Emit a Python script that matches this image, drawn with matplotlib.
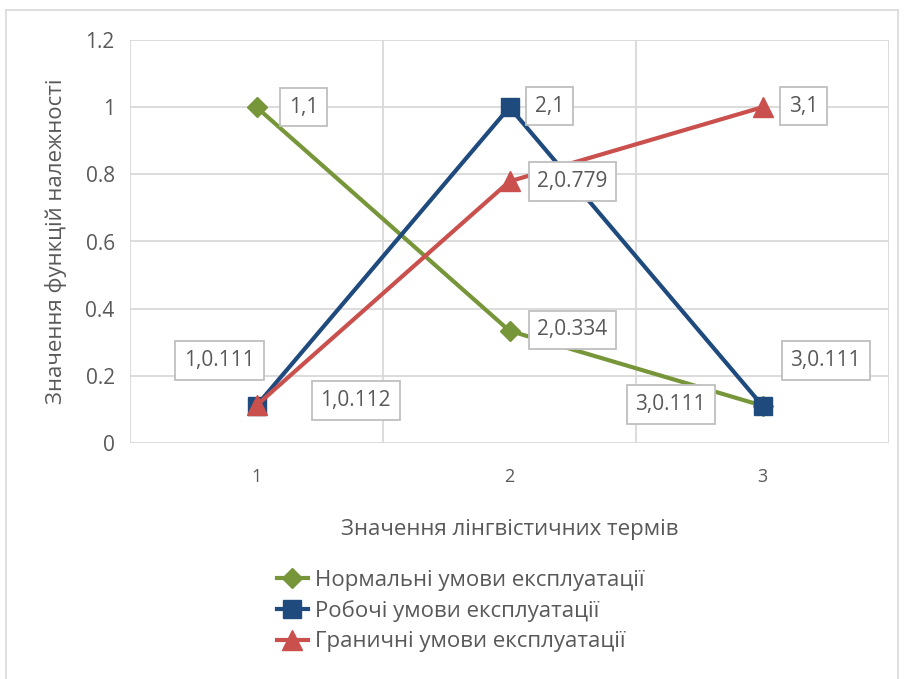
import matplotlib
matplotlib.use("Agg")
import matplotlib.pyplot as plt
from matplotlib.lines import Line2D

plt.rcParams['font.family'] = ['Open Sans', 'DejaVu Sans']

# Data
terms = [1, 2, 3]
normal = [1.0, 0.334, 0.111]
working = [0.111, 1.0, 0.111]
limit = [0.112, 0.779, 1.0]

series_names = ["Нормальні умови експлуатації",
                "Робочі умови експлуатації",
                "Граничні умови експлуатації"]
y_ticks = [0, 0.2, 0.4, 0.6, 0.8, 1, 1.2]
y_tick_labels = ["0", "0.2", "0.4", "0.6", "0.8", "1", "1.2"]
x_title = "Значення лінгвістичних термів"
y_title = "Значення функцій належності"

GREEN = "#77963A"
BLUE = "#1F4A7E"
RED = "#C9504D"
GRID = "#D9D9D9"
TEXT = "#595959"

fig = plt.figure(figsize=(9.09, 6.79), dpi=100)
W, H = 909, 679

# outer chart frame (left, top, right)
for xs, ys in [([6, 6], [0, 669]), ([6, 898], [669, 669]), ([898, 898], [669, 0])]:
    fig.add_artist(Line2D([x / W for x in xs], [y / H for y in ys],
                          color=GRID, lw=1.2, transform=fig.transFigure))

ax = fig.add_axes([130 / W, 1 - 443 / H, (889 - 130) / W, (443 - 40) / H])
ax.set_xlim(0.5, 3.5)
ax.set_ylim(0, 1.2)
for s in ax.spines.values():
    s.set_visible(False)

ax.set_yticks(y_ticks)
ax.set_yticklabels(y_tick_labels)
ax.set_xticks(terms)
ax.set_xticklabels([str(t) for t in terms])
ax.set_xticks([0.5, 1.5, 2.5, 3.5], minor=True)
ax.tick_params(axis='both', which='both', length=0)
ax.tick_params(axis='y', labelsize=15, labelcolor=TEXT, pad=11)
ax.tick_params(axis='x', labelsize=13, labelcolor=TEXT, pad=18)
ax.grid(True, axis='y', which='major', color=GRID, lw=1.3)
ax.grid(True, axis='x', which='minor', color=GRID, lw=1.3)
ax.grid(False, axis='x', which='major')
ax.set_axisbelow(True)

ax.plot(terms, normal, color=GREEN, lw=3, marker='D', ms=10, label=series_names[0])
ax.plot(terms, working, color=BLUE, lw=3, marker='s', ms=13, label=series_names[1])
ax.plot(terms, limit, color=RED, lw=3, marker='^', ms=14, label=series_names[2])

# data labels: (x, y, offset in pixels)
label_specs = [
    (terms[0], normal[0], (47, 0)),
    (terms[1], normal[1], (63, 1)),
    (terms[2], normal[2], (-92, 1)),
    (terms[0], working[0], (-37, 45)),
    (terms[1], working[1], (40, 1)),
    (terms[2], working[2], (63, 45)),
    (terms[0], limit[0], (99, 5)),
    (terms[1], limit[1], (63, 0)),
    (terms[2], limit[2], (41, 1)),
]
for x, y, off in label_specs:
    txt = f"{x},{y:g}"
    ax.annotate(txt, (x, y), xytext=off, textcoords='offset pixels',
                ha='center', va='center', fontsize=15, color=TEXT,
                bbox=dict(boxstyle='square,pad=0.42', fc='white', ec='#BFBFBF', lw=1.3),
                zorder=5)

ax.set_xlabel(x_title, fontsize=16, color=TEXT, labelpad=24)
ax.set_ylabel(y_title, fontsize=16, color=TEXT, labelpad=13)

leg = fig.legend(loc='upper left', bbox_to_anchor=(268 / W, 1 - 561 / H),
                 frameon=False, fontsize=16, labelcolor=TEXT,
                 handlelength=1.4, handletextpad=0.3, labelspacing=0.42,
                 borderaxespad=0)

fig.savefig("out.png", dpi=100)
